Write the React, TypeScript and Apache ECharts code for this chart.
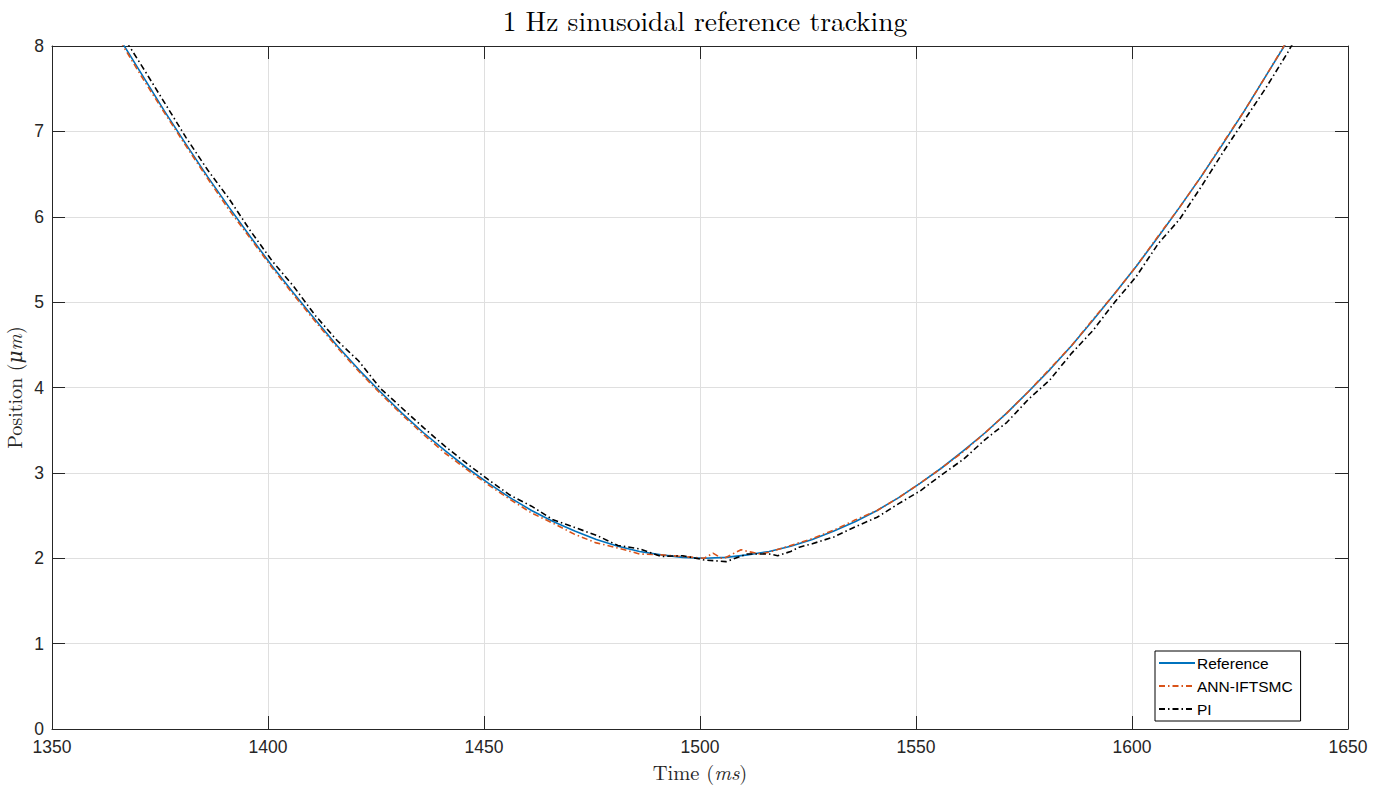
import React, { useEffect, useRef } from "react";
import * as echarts from "echarts";

const xTicks = [1350, 1400, 1450, 1500, 1550, 1600, 1650];
const yTicks = [0, 1, 2, 3, 4, 5, 6, 7, 8];

const refTime = [
  1361, 1366, 1371, 1376, 1381, 1386, 1391, 1396, 1401, 1406, 1411, 1416, 1421, 1426, 1431,
  1436, 1441, 1446, 1451, 1456, 1461, 1466, 1471, 1476, 1481, 1486, 1491, 1496, 1501, 1506,
  1511, 1516, 1521, 1526, 1531, 1536, 1541, 1546, 1551, 1556, 1561, 1566, 1571, 1576, 1581,
  1586, 1591, 1596, 1601, 1606, 1611, 1616, 1621, 1626, 1631, 1636, 1641,
];
const refPos = [
  8.49, 8.06, 7.65, 7.24, 6.85, 6.47, 6.11, 5.76, 5.42, 5.1, 4.79, 4.49, 4.21, 3.95, 3.7,
  3.47, 3.26, 3.06, 2.88, 2.71, 2.56, 2.43, 2.32, 2.22, 2.14, 2.08, 2.04, 2.01, 2.0, 2.01,
  2.04, 2.08, 2.14, 2.22, 2.32, 2.43, 2.56, 2.71, 2.88, 3.06, 3.26, 3.47, 3.7, 3.95, 4.21,
  4.49, 4.79, 5.1, 5.42, 5.76, 6.11, 6.47, 6.85, 7.24, 7.65, 8.06, 8.49,
];

const annTime = [
  1361, 1366, 1371, 1376, 1381, 1386, 1391, 1396, 1401, 1406, 1411, 1416, 1421, 1426, 1431,
  1436, 1441, 1446, 1451, 1456, 1461, 1466, 1471, 1476, 1481, 1486, 1491, 1496, 1501, 1503,
  1505, 1506, 1509.5, 1511, 1514, 1516, 1521, 1526, 1531, 1536, 1541, 1546, 1551, 1556, 1561,
  1566, 1571, 1576, 1581, 1586, 1591, 1596, 1601, 1606, 1611, 1616, 1621, 1626, 1631, 1636,
  1641,
];
const annPos = [
  8.47, 8.04, 7.62, 7.22, 6.83, 6.45, 6.08, 5.74, 5.4, 5.08, 4.77, 4.47, 4.19, 3.93, 3.68,
  3.45, 3.23, 3.04, 2.86, 2.69, 2.53, 2.41, 2.28, 2.18, 2.12, 2.05, 2.04, 2.02, 2.0, 2.06,
  2.0, 2.01, 2.1, 2.08, 2.05, 2.07, 2.15, 2.23, 2.33, 2.45, 2.56, 2.71, 2.88, 3.06, 3.25,
  3.47, 3.7, 3.95, 4.22, 4.49, 4.8, 5.1, 5.42, 5.77, 6.11, 6.47, 6.86, 7.24, 7.65, 8.07,
  8.49,
];

const piTime = [
  1361, 1366, 1371, 1376, 1381, 1386, 1391, 1396, 1401, 1406, 1411, 1416, 1421, 1426, 1431,
  1436, 1441, 1446, 1451, 1456, 1461, 1466, 1471, 1476, 1481, 1486, 1491, 1496, 1501, 1506,
  1511, 1516, 1518, 1521, 1523, 1526, 1531, 1536, 1541, 1546, 1551, 1556, 1561, 1566, 1571,
  1576, 1581, 1586, 1591, 1596, 1601, 1606, 1611, 1616, 1621, 1626, 1631, 1636, 1641,
];
const piPos = [
  8.6, 8.15, 7.75, 7.34, 6.93, 6.55, 6.21, 5.83, 5.48, 5.18, 4.84, 4.55, 4.31, 3.99, 3.76,
  3.53, 3.31, 3.11, 2.92, 2.74, 2.61, 2.45, 2.36, 2.27, 2.15, 2.11, 2.02, 2.03, 1.98, 1.96,
  2.05, 2.05, 2.03, 2.08, 2.13, 2.17, 2.25, 2.37, 2.48, 2.64, 2.79, 2.98, 3.16, 3.39, 3.59,
  3.86, 4.09, 4.4, 4.67, 5.0, 5.3, 5.68, 5.97, 6.35, 6.75, 7.13, 7.51, 7.92, 8.37,
];

const zip = (a: number[], b: number[]) => a.map((v, i) => [v, b[i]]);

const AX = "#262626";
const GRID = "#dfdfdf";
const SANS = "'Liberation Sans', Arial, Helvetica, sans-serif";
const SERIF = "'Latin Modern Roman', 'CMU Serif', 'DejaVu Serif', serif";

export default function App() {
  const ref = useRef<HTMLDivElement>(null);
  useEffect(() => {
    if (!ref.current) return;
    const chart = echarts.init(ref.current, null, { renderer: "svg" });
    const axisCommon = {
      type: "value" as const,
      axisLine: { show: true, onZero: false, lineStyle: { color: AX, width: 1 } },
      axisTick: { show: true, inside: true, length: 13, lineStyle: { color: AX, width: 1 } },
    };
    chart.setOption({
      animation: false,
      backgroundColor: "#ffffff",
      title: {
        text: "1 Hz sinusoidal reference tracking",
        left: 700,
        top: 0,
        textAlign: "center",
        textStyle: { fontFamily: SERIF, fontWeight: "normal", fontSize: 27.5, color: "#000" },
      },
      grid: { left: 52, right: 36, top: 46, bottom: 56, containLabel: false, outerBoundsMode: "none" },
      legend: {
        orient: "vertical",
        left: 1155,
        top: 651,
        padding: [4, 8, 4, 3],
        itemWidth: 36,
        itemHeight: 14,
        itemGap: 7,
        backgroundColor: "#ffffff",
        borderColor: "#000000",
        borderWidth: 1,
        borderRadius: 0,
        itemStyle: { opacity: 0, borderWidth: 0 },
        textStyle: { fontFamily: SANS, fontSize: 15.5, color: "#000", padding: [0, 0, 0, -3] },
        data: ["Reference", "ANN-IFTSMC", "PI"],
      },
      xAxis: [
        {
          ...axisCommon,
          min: 1350,
          max: 1650,
          interval: 50,
          position: "bottom",
          name: "Time ({i|ms})",
          nameLocation: "middle",
          nameGap: 31,
          nameTextStyle: {
            fontFamily: SERIF,
            fontSize: 20.5,
            color: AX,
            rich: { i: { fontFamily: SERIF, fontStyle: "italic", fontSize: 20.5, color: AX } },
          },
          axisLabel: { show: true, margin: 9, fontFamily: SANS, fontSize: 17.5, color: AX,
            formatter: (v: number) => (xTicks.includes(v) ? String(v) : "") },
          splitLine: { show: true, lineStyle: { color: GRID, width: 1 } },
        },
        {
          ...axisCommon,
          min: 1350,
          max: 1650,
          interval: 50,
          position: "top",
          axisLabel: { show: false },
          splitLine: { show: false },
        },
      ],
      yAxis: [
        {
          ...axisCommon,
          min: 0,
          max: 8,
          interval: 1,
          position: "left",
          name: "Position ({i|μm})",
          nameLocation: "middle",
          nameGap: 26,
          nameRotate: 90,
          nameTextStyle: {
            fontFamily: SERIF,
            fontSize: 20,
            color: AX,
            rich: { i: { fontFamily: SERIF, fontStyle: "italic", fontSize: 20, color: AX } },
          },
          axisLabel: { show: true, margin: 8, fontFamily: SANS, fontSize: 17.5, color: AX,
            formatter: (v: number) => (yTicks.includes(v) ? String(v) : "") },
          splitLine: { show: true, lineStyle: { color: GRID, width: 1 } },
        },
        {
          ...axisCommon,
          min: 0,
          max: 8,
          interval: 1,
          position: "right",
          axisLabel: { show: false },
          splitLine: { show: false },
        },
      ],
      series: [
        {
          name: "Reference",
          type: "line",
          data: zip(refTime, refPos),
          symbol: "none",
          smooth: false,
          clip: true,
          lineStyle: { color: "#0072BD", width: 1.6, type: "solid" },
          itemStyle: { color: "#0072BD" },
          z: 3,
        },
        {
          name: "ANN-IFTSMC",
          type: "line",
          data: zip(annTime, annPos),
          symbol: "none",
          clip: true,
          lineStyle: { color: "#D95319", width: 1.6, type: [6, 3, 1.5, 3] },
          itemStyle: { color: "#D95319" },
          z: 4,
        },
        {
          name: "PI",
          type: "line",
          data: zip(piTime, piPos),
          symbol: "none",
          clip: true,
          lineStyle: { color: "#000000", width: 1.6, type: [6, 3, 1.5, 3] },
          itemStyle: { color: "#000000" },
          z: 5,
        },
      ],
    });
    return () => chart.dispose();
  }, []);
  return (
    <div
      ref={ref}
      style={{ position: "absolute", left: 0, top: 0, width: 1384, height: 785, background: "#fff" }}
    />
  );
}
